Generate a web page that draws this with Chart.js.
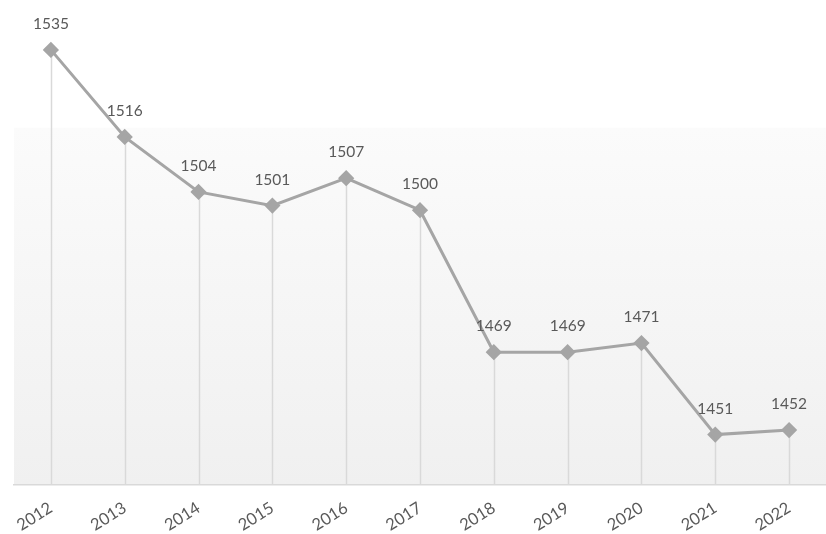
<!DOCTYPE html>
<html>
<head>
<meta charset="utf-8">
<script src="https://cdn.jsdelivr.net/npm/chart.js@4/dist/chart.umd.min.js"></script>
<style>
html,body{margin:0;padding:0;background:#fff;}
#wrap{width:826px;height:534px;position:relative;}
</style>
</head>
<body>
<div id="wrap"><canvas id="c" width="826" height="534"></canvas></div>
<script>
const years = ['2012','2013','2014','2015','2016','2017','2018','2019','2020','2021','2022'];
const values = [1535,1516,1504,1501,1507,1500,1469,1469,1471,1451,1452];
const yMin = 1440;
const yMax = 1540;

const bgPlugin = {
  id: 'bgPlugin',
  beforeDraw(chart) {
    const {ctx, chartArea} = chart;
    const top = chart.scales.y.getPixelForValue(1518);
    const g = ctx.createLinearGradient(0, top, 0, chartArea.bottom);
    g.addColorStop(0, '#fbfbfb');
    g.addColorStop(1, '#f0f0f0');
    ctx.save();
    ctx.fillStyle = g;
    ctx.fillRect(chartArea.left, top, chartArea.right - chartArea.left, chartArea.bottom - top);
    ctx.restore();
  }
};

const dropPlugin = {
  id: 'dropPlugin',
  beforeDatasetsDraw(chart) {
    const {ctx, chartArea} = chart;
    const meta = chart.getDatasetMeta(0);
    ctx.save();
    ctx.strokeStyle = '#d9d9d9';
    ctx.lineWidth = 1.5;
    meta.data.forEach(pt => {
      ctx.beginPath();
      ctx.moveTo(Math.round(pt.x) + 0.5, pt.y);
      ctx.lineTo(Math.round(pt.x) + 0.5, chartArea.bottom);
      ctx.stroke();
    });
    ctx.restore();
  }
};

const labelPlugin = {
  id: 'labelPlugin',
  afterDatasetsDraw(chart) {
    const {ctx} = chart;
    const meta = chart.getDatasetMeta(0);
    const data = chart.data.datasets[0].data;
    ctx.save();
    ctx.fillStyle = '#595959';
    ctx.font = '15.5px Lato, "Open Sans", sans-serif';
    ctx.textAlign = 'center';
    ctx.textBaseline = 'middle';
    meta.data.forEach((pt, i) => {
      ctx.fillText(String(data[i]), pt.x, pt.y - 26);
    });
    ctx.restore();
  }
};

new Chart(document.getElementById('c'), {
  type: 'line',
  data: {
    labels: years,
    datasets: [{
      data: values,
      borderColor: '#a5a5a5',
      backgroundColor: '#a5a5a5',
      borderWidth: 3,
      pointStyle: 'rectRot',
      pointRadius: 6,
      pointHoverRadius: 6,
      pointBackgroundColor: '#a5a5a5',
      pointBorderColor: '#a5a5a5',
      clip: false,
      tension: 0
    }]
  },
  options: {
    responsive: false,
    animation: false,
    devicePixelRatio: 1,
    layout: { autoPadding: false, padding: { left: 14, right: 0, top: 27, bottom: 0 } },
    plugins: { legend: { display: false }, tooltip: { enabled: false } },
    scales: {
      x: {
        offset: true,
        afterFit(scale) { scale.paddingLeft = 0; scale.paddingRight = 0; scale.height = 49; },
        grid: { display: false, drawTicks: false },
        border: { display: true, color: '#d9d9d9', width: 1.5 },
        ticks: {
          color: '#595959',
          font: { family: 'Lato, "Open Sans", sans-serif', size: 16.5 },
          maxRotation: 32,
          minRotation: 32,
          padding: 13
        }
      },
      y: {
        display: false,
        min: yMin,
        max: yMax
      }
    }
  },
  plugins: [bgPlugin, dropPlugin, labelPlugin]
});
</script>
</body>
</html>
